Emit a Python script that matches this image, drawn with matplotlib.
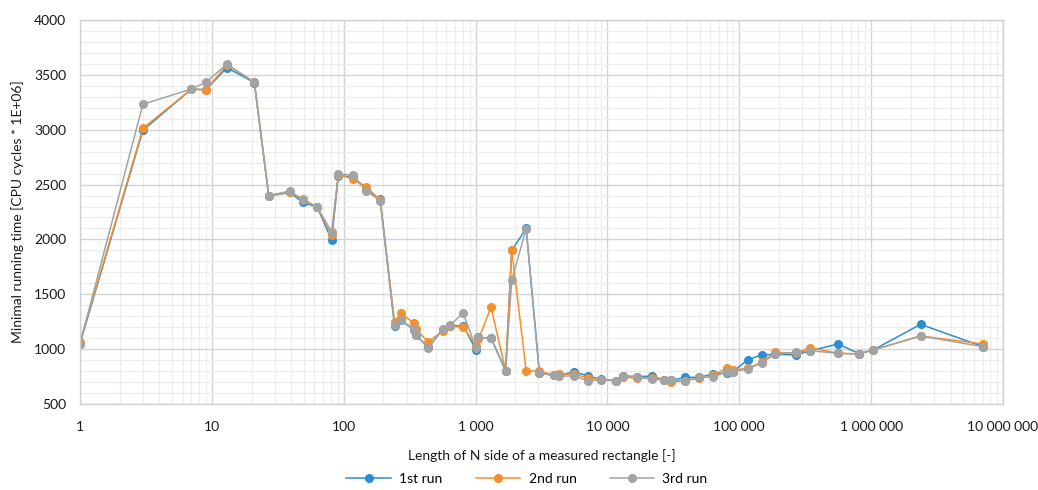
import numpy as np
import matplotlib
matplotlib.use('Agg')
import matplotlib.pyplot as plt
from matplotlib.ticker import FixedLocator, FuncFormatter, MultipleLocator, LogLocator, NullFormatter

plt.rcParams['font.family'] = ['Lato', 'DejaVu Sans']

# side length N of the measured rectangle
n_side = [1, 3, 7, 9, 13, 21, 27, 39, 49, 63, 81, 91, 118, 148, 189, 243, 271, 343, 351,
          438, 563, 640, 807, 1010, 1050, 1310, 1690, 1880, 2420, 3050, 3900, 4300, 5600,
          7100, 9000, 11600, 13200, 16800, 21600, 27000, 30300, 38700, 49800, 62800, 80000,
          90000, 116000, 148000, 186000, 269000, 345000, 561000, 806000, 1035000, 2370000,
          7090000]

# minimal running time [CPU cycles * 1E+06]
run1 = [1050, 2995, 3370, 3365, 3565, 3430, 2395, 2428, 2338, 2293, 1995, 2580, 2570, 2450,
        2366, 1212, 1262, 1175, 1125, 1020, 1175, 1215, 1210, 992, 1108, 1099, 805, 1900,
        2100, 780, 762, 760, 795, 755, 725, 712, 755, 749, 755, 719, 715, 743, 743, 773,
        785, 795, 905, 947, 953, 947, 985, 1047, 960, 992, 1226, 1022]
run2 = [1062, 3013, 3370, 3362, 3590, 3435, 2400, 2432, 2370, 2293, 2040, 2590, 2551, 2481,
        2360, 1250, 1327, 1235, 1180, 1068, 1165, 1211, 1199, 1030, 1090, 1381, 805, 1904,
        801, 800, 765, 773, 770, 740, 720, 712, 745, 735, 740, 719, 698, 712, 735, 760,
        825, 810, 825, 880, 971, 965, 1013, 962, 956, 992, 1120, 1047]
run3 = [1050, 3232, 3371, 3432, 3597, 3432, 2399, 2441, 2359, 2293, 2070, 2596, 2587, 2444,
        2353, 1220, 1266, 1181, 1129, 1013, 1181, 1220, 1327, 1010, 1108, 1099, 805, 1630,
        2095, 780, 762, 755, 755, 712, 719, 712, 755, 749, 725, 719, 719, 712, 743, 749,
        790, 795, 819, 876, 955, 971, 986, 962, 956, 992, 1120, 1022]

labels = ['1st run', '2nd run', '3rd run']
colors = ['#2B8ED3', '#F5902A', '#A3A3A3']

fig = plt.figure(figsize=(10.38, 4.9), dpi=100)
ax = fig.add_axes([80 / 1038, 1 - 404 / 490, 923 / 1038, 384 / 490])

for y, lab, c in zip([run1, run2, run3], labels, colors):
    ax.plot(n_side, y, color=c, lw=1.1, marker='o', ms=5.5, mec=c, mfc=c, label=lab)

ax.set_xscale('log')
ax.set_xlim(1, 1e7)
ax.set_ylim(500, 4000)

ax.yaxis.set_major_locator(MultipleLocator(500))
ax.yaxis.set_minor_locator(MultipleLocator(100))
ax.xaxis.set_major_locator(FixedLocator([10 ** k for k in range(8)]))
ax.xaxis.set_minor_locator(LogLocator(base=10, subs=np.arange(2, 10), numticks=20))
ax.xaxis.set_minor_formatter(NullFormatter())
ax.xaxis.set_major_formatter(FuncFormatter(lambda v, p: f'{int(round(v)):,}'.replace(',', ' ')))

ax.grid(which='major', color='#D4D4D4', lw=1.0)
ax.grid(which='minor', color='#EDEDED', lw=0.9)
ax.set_axisbelow(True)
ax.tick_params(which='both', length=0, labelsize=10, colors='#1A1A1A')
ax.tick_params(axis='x', pad=12)
ax.tick_params(axis='y', pad=10)
for s in ax.spines.values():
    s.set_color('#D0D0D0')
    s.set_linewidth(1.0)

ax.set_xlabel('Length of N side of a measured rectangle [-]', fontsize=10, labelpad=12, color='#1A1A1A')
ax.set_ylabel('Minimal running time [CPU cycles * 1E+06]', fontsize=10, labelpad=7, color='#1A1A1A')

fig.legend(loc='center', bbox_to_anchor=(527 / 1038, 1 - 479 / 490), ncol=3, frameon=False,
           fontsize=10, handlelength=3.2, columnspacing=2.4, handletextpad=0.6)

fig.savefig('out.png', dpi=100)
